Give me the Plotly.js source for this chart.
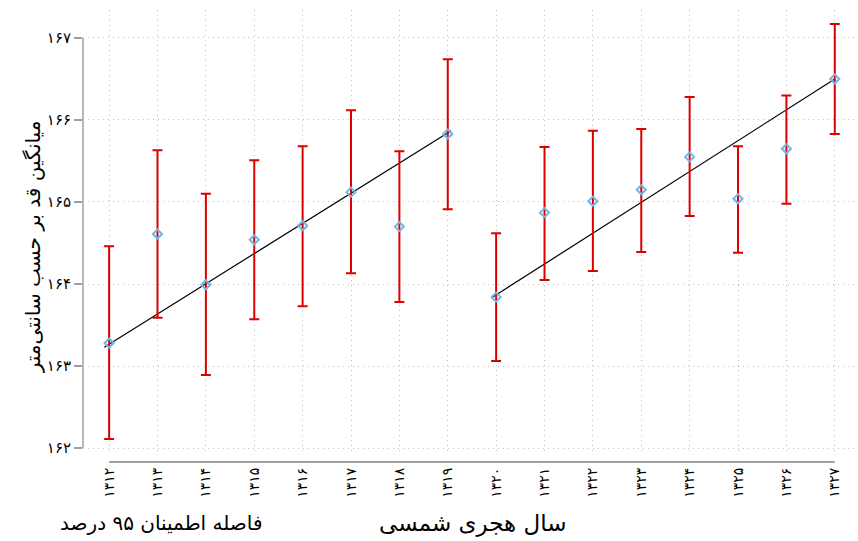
<!DOCTYPE html>
<html>
<head>
<meta charset="utf-8">
<script src="https://cdn.plot.ly/plotly-3.0.1.min.js"></script>
<style>body{margin:0;padding:0;background:#fff;} #chart{width:858px;height:541px;}</style>
</head>
<body>
<div id="chart"></div>
<script>
const years = [1312,1313,1314,1315,1316,1317,1318,1319,1320,1321,1322,1323,1324,1325,1326,1327];
const yearLabels = ['۱۳۱۲','۱۳۱۳','۱۳۱۴','۱۳۱۵','۱۳۱۶','۱۳۱۷','۱۳۱۸','۱۳۱۹','۱۳۲۰','۱۳۲۱','۱۳۲۲','۱۳۲۳','۱۳۲۴','۱۳۲۵','۱۳۲۶','۱۳۲۷'];
const means = [163.28,164.61,163.99,164.54,164.71,165.12,164.70,165.83,163.84,164.87,165.01,165.15,165.55,165.04,165.65,166.50];
const upper = [164.46,165.63,165.10,165.51,165.68,166.12,165.62,166.74,164.62,165.67,165.87,165.89,166.28,165.68,166.30,167.17];
const lower = [162.11,163.59,162.89,163.57,163.73,164.13,163.78,164.91,163.06,164.05,164.16,164.39,164.83,164.38,164.98,165.83];
const fitX1 = [1311.9,1319.07];
const fitY1 = [163.23,165.87];
const fitX2 = [1319.9,1327];
const fitY2 = [163.83,166.50];
const yTickVals = [162,163,164,165,166,167];
const yTickLabels = ['۱۶۲','۱۶۳','۱۶۴','۱۶۵','۱۶۶','۱۶۷'];

const FONT = 'DejaVu Sans, sans-serif';
const errPlus = upper.map((u,i)=>u-means[i]);
const errMinus = lower.map((l,i)=>means[i]-l);

const traces = [
  {x: fitX1, y: fitY1, type:'scatter', mode:'lines', line:{color:'#000', width:1.2}, hoverinfo:'skip', showlegend:false},
  {x: fitX2, y: fitY2, type:'scatter', mode:'lines', line:{color:'#000', width:1.2}, hoverinfo:'skip', showlegend:false},
  {x: years, y: means, type:'scatter', mode:'markers',
   marker:{symbol:'diamond-open', size:7, color:'#74b4e4', line:{width:2, color:'#74b4e4'}},
   error_y:{type:'data', symmetric:false, array:errPlus, arrayminus:errMinus, color:'#dd0000', thickness:2, width:5},
   showlegend:false}
];

const layout = {
  width:858, height:541,
  margin:{l:83, r:0, t:10, b:86},
  paper_bgcolor:'#fff', plot_bgcolor:'#fff',
  showlegend:false,
  xaxis:{range:[1311.46,1327.48], tickvals:years, ticktext:yearLabels, tickangle:-90,
         showgrid:true, gridcolor:'#bdbdbd', griddash:'1px,4px', gridwidth:1,
         zeroline:false, showline:false, ticks:'', ticklabelstandoff:9,
         tickfont:{family:FONT, size:14, color:'#000'}},
  yaxis:{range:[161.915,167.341], tickvals:yTickVals, ticktext:yTickLabels,
         showgrid:true, gridcolor:'#bdbdbd', griddash:'1px,4px', gridwidth:1,
         zeroline:false, showline:false, ticks:'outside', ticklen:8, tickwidth:1.5, tickcolor:'#a0a0a0',
         tickfont:{family:FONT, size:15, color:'#000'}},
  shapes:[
    {type:'line', xref:'paper', yref:'y', x0:0, x1:0, y0:162, y1:167, line:{color:'#a0a0a0', width:1.5}},
    {type:'line', xref:'x', yref:'paper', x0:1312, x1:1327, y0:-0.0157, y1:-0.0157, line:{color:'#a0a0a0', width:2}}
  ],
  annotations:[
    {text:'میانگین قد بر حسب سانتی‌متر', xref:'paper', yref:'paper', x:-0.0645, y:0.467, textangle:-90,
     xanchor:'center', yanchor:'middle', showarrow:false, font:{family:FONT, size:20, color:'#000'}},
    {text:'سال هجری شمسی', xref:'paper', yref:'paper', x:0.503, y:-0.153, xanchor:'center', yanchor:'middle',
     showarrow:false, font:{family:FONT, size:23, color:'#000'}},
    {text:'فاصله اطمینان ۹۵ درصد', xref:'paper', yref:'paper', x:-0.0325, y:-0.153, xanchor:'left', yanchor:'middle',
     showarrow:false, font:{family:FONT, size:20, color:'#000'}}
  ]
};

Plotly.newPlot('chart', traces, layout, {displayModeBar:false, staticPlot:true});
</script>
</body>
</html>
